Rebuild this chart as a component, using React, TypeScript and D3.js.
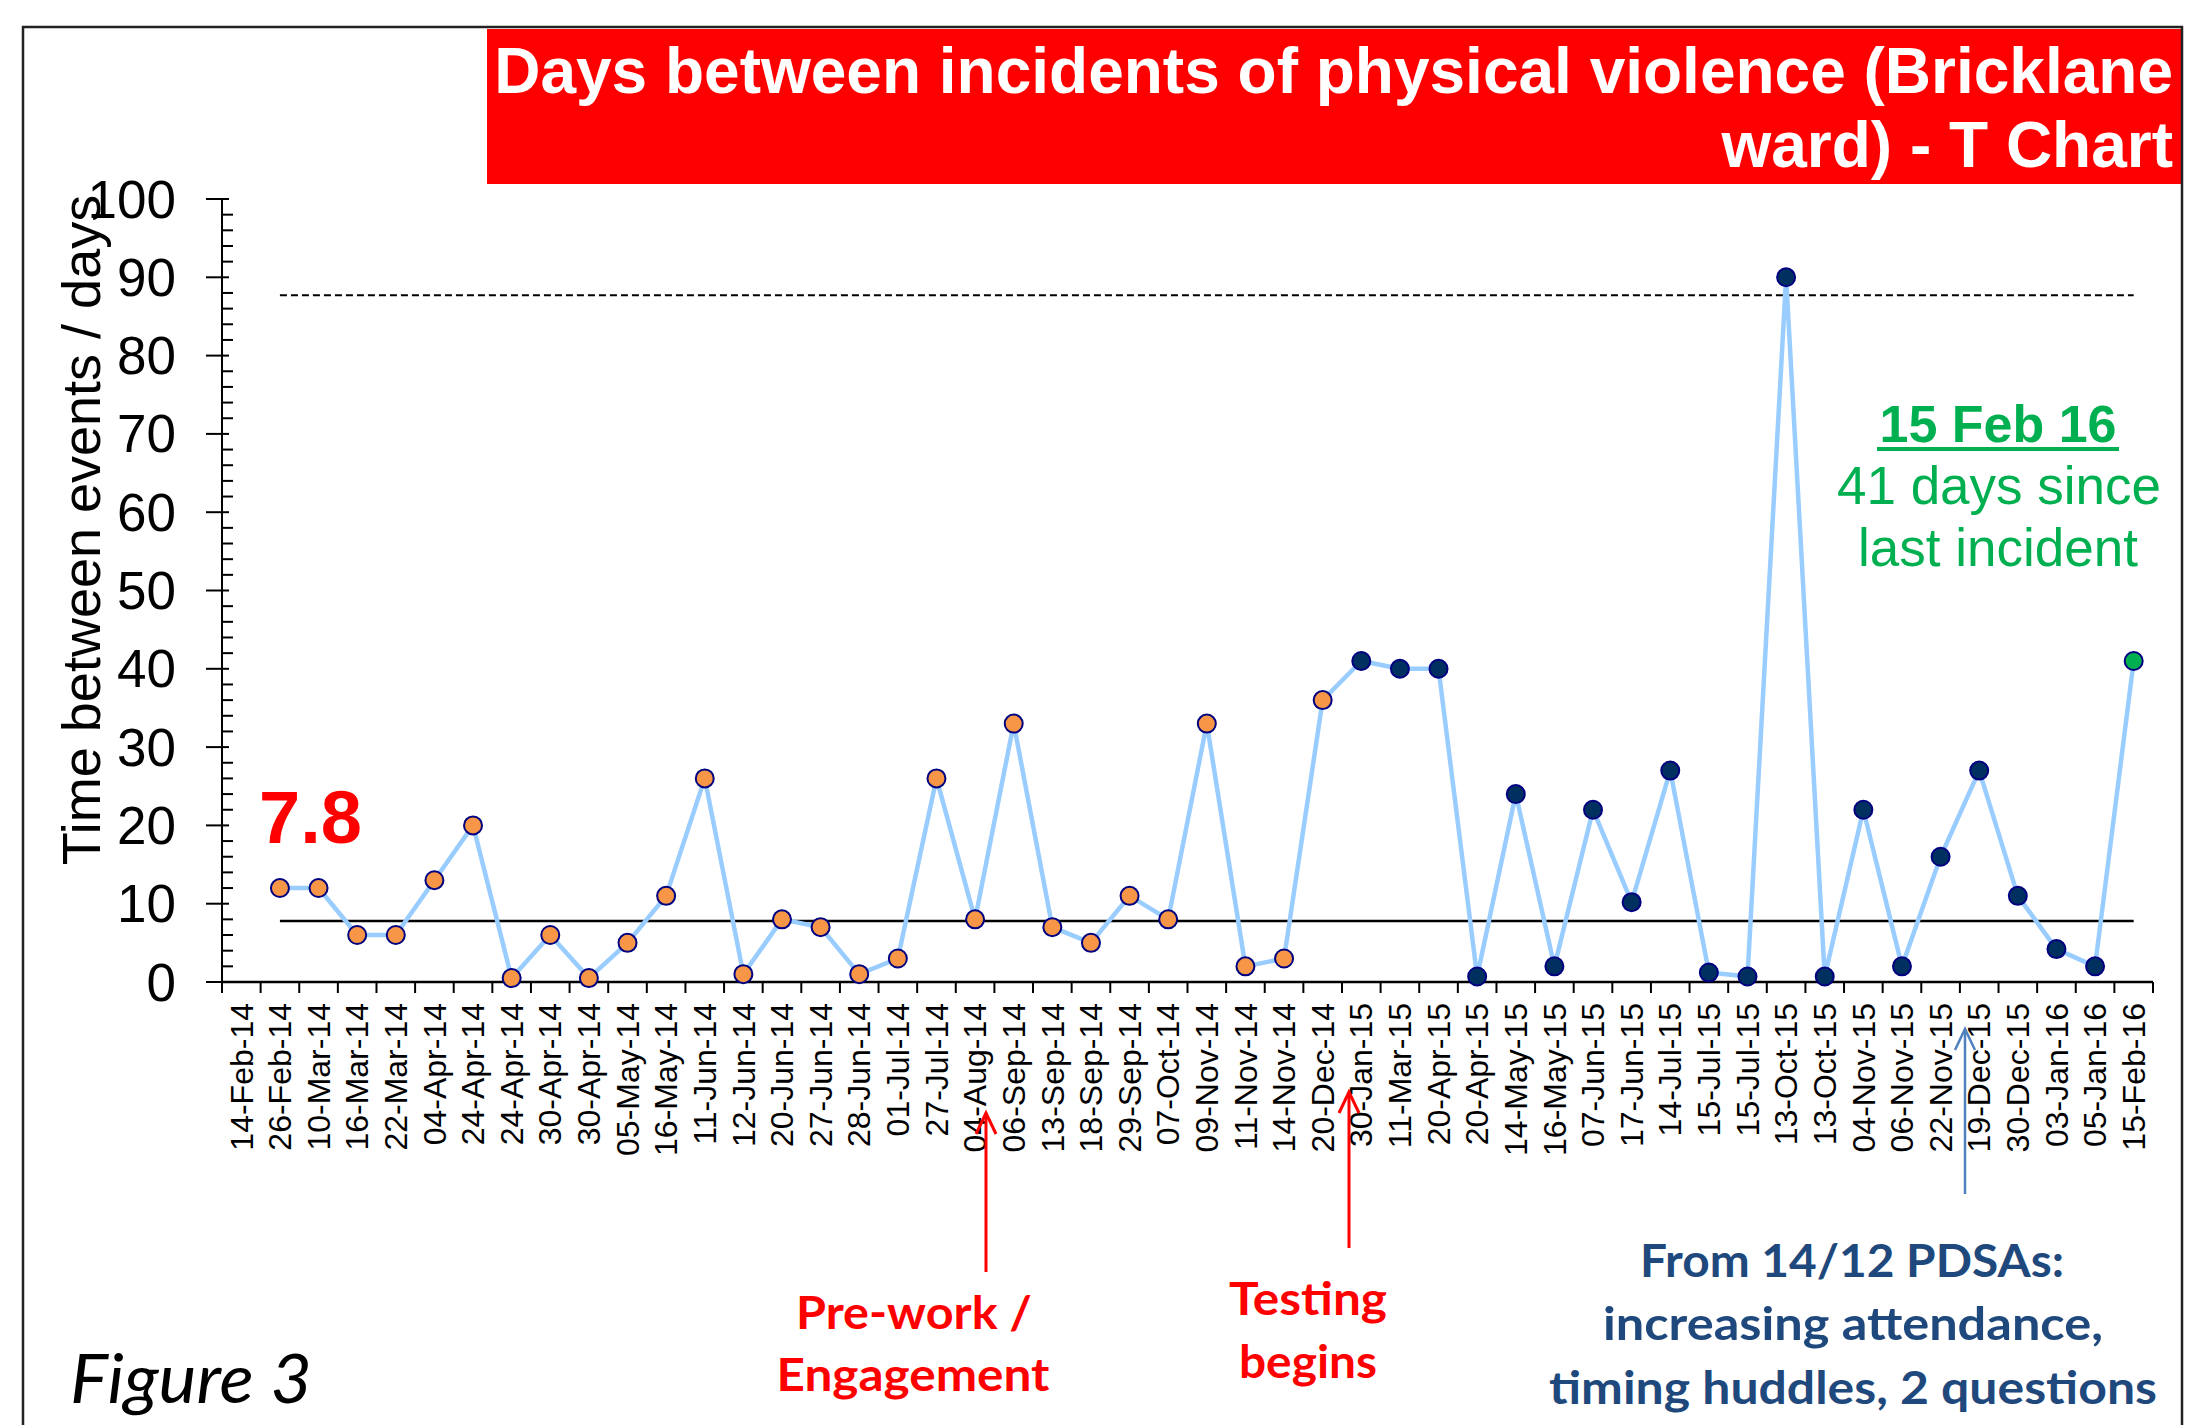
import React, { useEffect } from 'react';
import * as d3 from 'd3';

// x axis category labels (first one is the start date, no point)
const dates = [
  '14-Feb-14', '26-Feb-14', '10-Mar-14', '16-Mar-14', '22-Mar-14', '04-Apr-14', '24-Apr-14', '24-Apr-14',
  '30-Apr-14', '30-Apr-14', '05-May-14', '16-May-14', '11-Jun-14', '12-Jun-14', '20-Jun-14', '27-Jun-14',
  '28-Jun-14', '01-Jul-14', '27-Jul-14', '04-Aug-14', '06-Sep-14', '13-Sep-14', '18-Sep-14', '29-Sep-14',
  '07-Oct-14', '09-Nov-14', '11-Nov-14', '14-Nov-14', '20-Dec-14', '30-Jan-15', '11-Mar-15', '20-Apr-15',
  '20-Apr-15', '14-May-15', '16-May-15', '07-Jun-15', '17-Jun-15', '14-Jul-15', '15-Jul-15', '15-Jul-15',
  '13-Oct-15', '13-Oct-15', '04-Nov-15', '06-Nov-15', '22-Nov-15', '19-Dec-15', '30-Dec-15', '03-Jan-16',
  '05-Jan-16', '15-Feb-16',
];

// days between incidents, one per date from 26-Feb-14 on
const baselineDays = [12, 12, 6, 6, 13, 20, 0.5, 6, 0.5, 5, 11, 26, 1, 8, 7, 1, 3, 26, 8, 33, 7, 5, 11, 8, 33, 2, 3, 36];
const testingDays = [41, 40, 40, 0.7, 24, 2, 22, 10.2, 27, 1.2, 0.7, 90, 0.7, 22, 2, 16, 27, 11, 4.2, 2];
const latestDays = [41];

const meanDays = 7.8;
const upperLimit = 87.7;
const yTicks = [0, 10, 20, 30, 40, 50, 60, 70, 80, 90, 100];

const W = 2202;
const H = 1425;

const App = () => {
  useEffect(() => {
    document.body.style.margin = '0';
    document.body.style.overflow = 'hidden';
  }, []);

  const x = d3.scaleBand<number>()
    .domain(d3.range(dates.length))
    .range([222, 2153])
    .padding(0);
  const cx = (i: number) => (x(i) as number) + x.bandwidth() / 2;

  const y = d3.scaleLinear().domain([0, 100]).range([982, 199]);

  const points = [
    ...baselineDays.map(v => ({ v, fill: '#F79646' })),
    ...testingDays.map(v => ({ v, fill: '#00305F' })),
    ...latestDays.map(v => ({ v, fill: '#00B050' })),
  ].map((p, k) => ({ ...p, i: k + 1 }));

  const line = d3.line<{ i: number; v: number }>()
    .x(d => cx(d.i))
    .y(d => y(d.v));

  const firstX = cx(1);
  const lastX = cx(dates.length - 1);
  const minorTicks = d3.range(0, 101, 2).filter(t => t % 10 !== 0);
  const tickEdges = d3.range(dates.length + 1).map(i => 222 + i * x.step());

  const arial = '"Liberation Sans", Arial, sans-serif';
  const cali = 'Lato, "Open Sans", sans-serif';

  const arrow = (ax: number, tip: number, bottom: number, color: string, w: number) => (
    <g stroke={color} strokeWidth={w} fill="none">
      <line x1={ax} y1={bottom} x2={ax} y2={tip} />
      <polyline points={`${ax - 10},${tip + 21} ${ax},${tip} ${ax + 10},${tip + 21}`} />
    </g>
  );

  return (
    <div style={{ position: 'absolute', left: 0, top: 0 }}>
      <svg width={W} height={H} style={{ display: 'block', background: '#fff' }}>
        {/* title box */}
        <rect x={487} y={29} width={1695} height={155} fill="#FF0000" />
        <g fontFamily={arial} fontWeight="bold" fontSize={64} fill="#fff" textAnchor="end">
          <text x={2173} y={93}>Days between incidents of physical violence (Bricklane</text>
          <text x={2173} y={167}>ward) - T Chart</text>
        </g>
        {/* outer frame */}
        <rect x={23} y={27} width={2159} height={1500} fill="none" stroke="#222" strokeWidth={2.5} />

        {/* y axis */}
        <line x1={222} x2={222} y1={y(100)} y2={y(0)} stroke="#000" strokeWidth={2} />
        {yTicks.map(t => (
          <g key={t}>
            <line x1={206} x2={229} y1={y(t)} y2={y(t)} stroke="#000" strokeWidth={2} />
            <text x={176} y={y(t)} dy="0.35em" textAnchor="end" fontFamily={arial} fontSize={53}>{t}</text>
          </g>
        ))}
        {minorTicks.map(t => (
          <line key={t} x1={222} x2={233} y1={y(t)} y2={y(t)} stroke="#000" strokeWidth={2} />
        ))}
        <text transform="translate(100,530) rotate(-90)" textAnchor="middle" fontFamily={arial} fontSize={54}>
          Time between events / days
        </text>

        {/* x axis */}
        <line x1={222} x2={2153} y1={y(0)} y2={y(0)} stroke="#000" strokeWidth={2.5} />
        {tickEdges.map((tx, i) => (
          <line key={i} x1={tx} x2={tx} y1={y(0)} y2={y(0) + 11} stroke="#000" strokeWidth={2} />
        ))}
        {dates.map((d, i) => (
          <text key={i} transform={`translate(${cx(i)},1003) rotate(-90)`} dy="0.35em" textAnchor="end"
            fontFamily={arial} fontSize={32}>{d}</text>
        ))}

        {/* mean and upper limit */}
        <line x1={firstX} x2={lastX} y1={y(meanDays)} y2={y(meanDays)} stroke="#000" strokeWidth={2.5} />
        <line x1={firstX} x2={lastX} y1={y(upperLimit)} y2={y(upperLimit)} stroke="#000" strokeWidth={2} strokeDasharray="7 4" />

        {/* series */}
        <path d={line(points) || ''} fill="none" stroke="#99CCFF" strokeWidth={4.5} strokeLinejoin="round" />
        {points.map(p => (
          <circle key={p.i} cx={cx(p.i)} cy={y(p.v)} r={9} fill={p.fill} stroke="#000080" strokeWidth={2} />
        ))}

        {/* labels */}
        <text x={259} y={843} fontFamily={arial} fontWeight="bold" fontSize={74} fill="#FF0000">{meanDays}</text>
        <g fontFamily={arial} fill="#00B050" textAnchor="middle">
          <text x={1998} y={442} fontWeight="bold" fontSize={52}>15 Feb 16</text>
          <line x1={1877} x2={2119} y1={449} y2={449} stroke="#00B050" strokeWidth={4} />
          <text x={1999} y={504} fontSize={53}>41 days since</text>
          <text x={1998} y={566} fontSize={53}>last incident</text>
        </g>

        {/* annotations */}
        {arrow(986, 1113, 1272, '#FF0000', 3)}
        {arrow(1349, 1092, 1248, '#FF0000', 3)}
        {arrow(1965, 1029, 1194, '#4F81BD', 2.5)}
        <g fontFamily={cali} fontWeight="bold" fontSize={46} textAnchor="middle">
          <text x={914} y={1329} fill="#FF0000" textLength={236} lengthAdjust="spacingAndGlyphs">Pre-work /</text>
          <text x={913} y={1391} fill="#FF0000" textLength={273} lengthAdjust="spacingAndGlyphs">Engagement</text>
          <text x={1308} y={1315} fill="#FF0000" textLength={158} lengthAdjust="spacingAndGlyphs">Testing</text>
          <text x={1308} y={1378} fill="#FF0000" textLength={138} lengthAdjust="spacingAndGlyphs">begins</text>
          <text x={1852} y={1277} fill="#1F497D" textLength={424} lengthAdjust="spacingAndGlyphs">From 14/12 PDSAs:</text>
          <text x={1853} y={1340} fill="#1F497D" textLength={500} lengthAdjust="spacingAndGlyphs">increasing attendance,</text>
          <text x={1853} y={1404} fill="#1F497D" textLength={608} lengthAdjust="spacingAndGlyphs">timing huddles, 2 questions</text>
        </g>
        <text x={70} y={1403} fontFamily={cali} fontStyle="italic" fontSize={67} textLength={242}
          lengthAdjust="spacingAndGlyphs">Figure 3</text>
      </svg>
    </div>
  );
};

export default App;
